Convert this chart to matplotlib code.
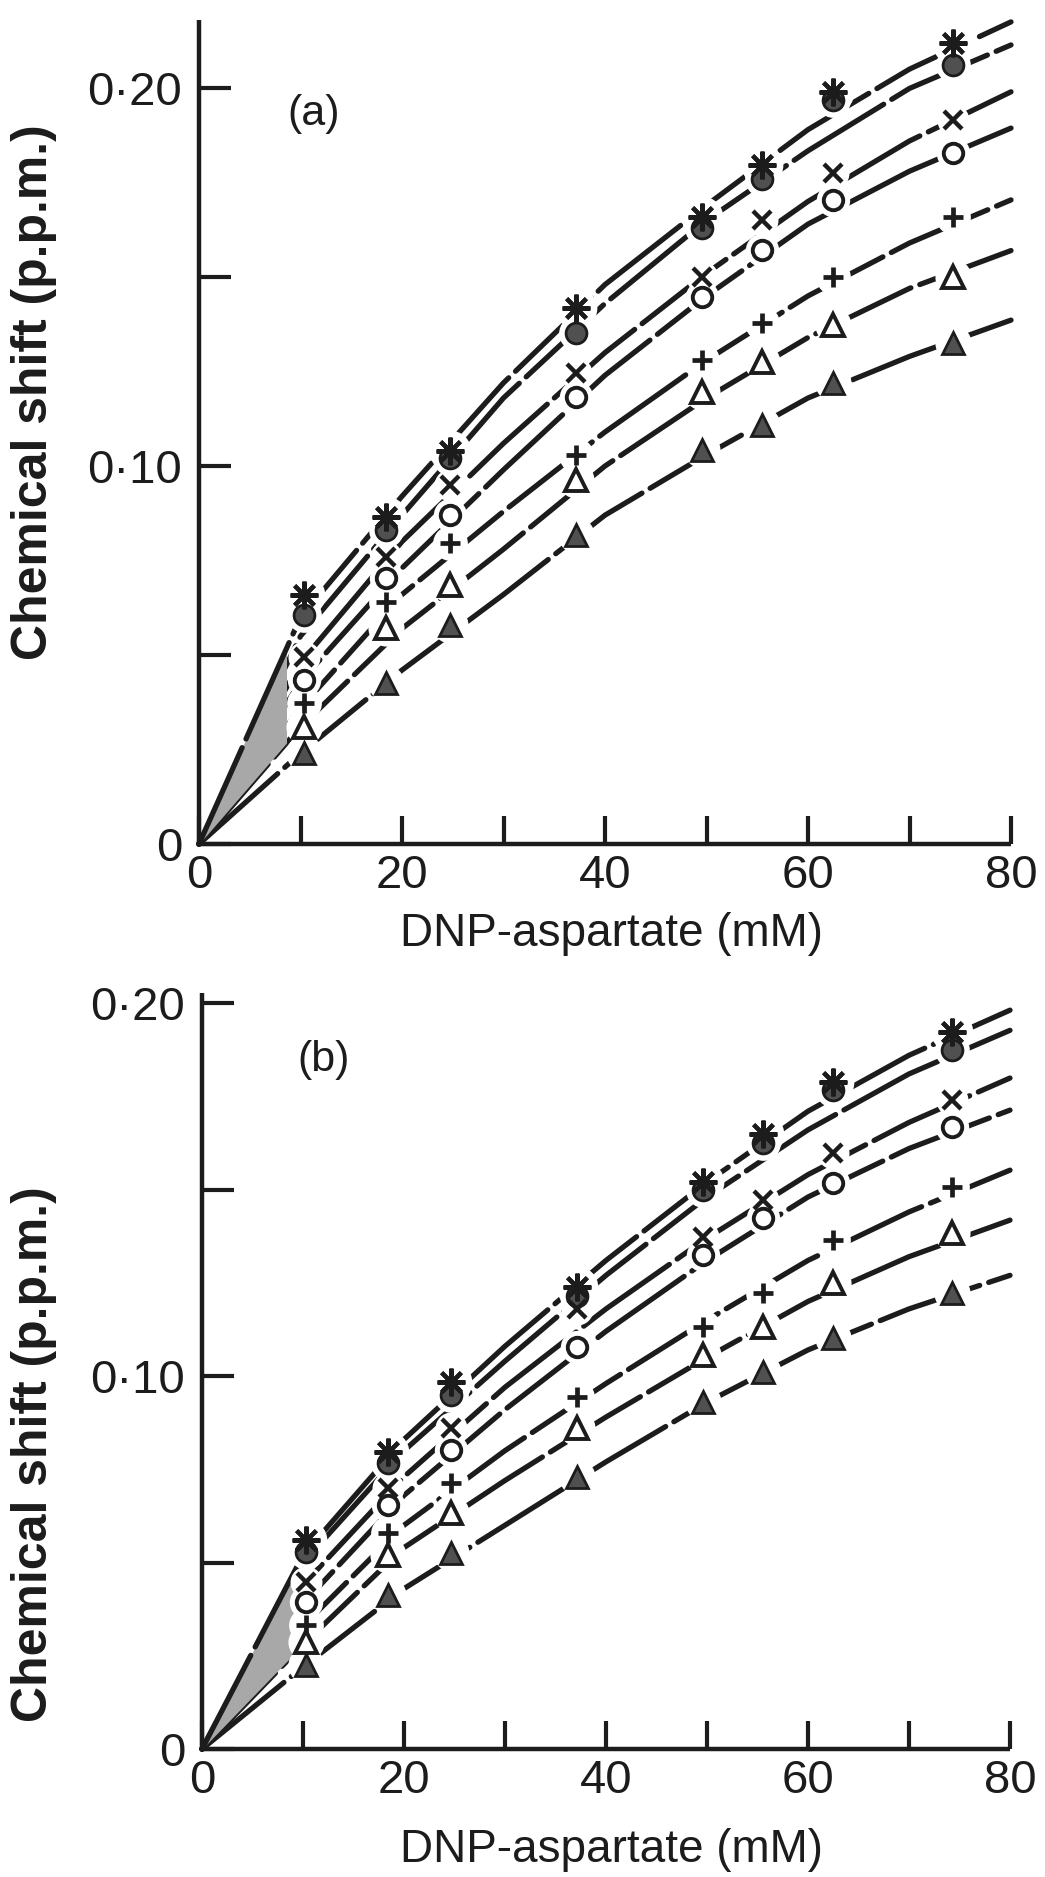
import matplotlib
matplotlib.use('Agg')
import matplotlib.pyplot as plt
from matplotlib.patches import Rectangle
from matplotlib.ticker import FixedLocator, NullFormatter

plt.rcParams['font.family'] = ['Liberation Sans', 'DejaVu Sans']

# ---------------- data ----------------
conc = [10.3, 18.4, 24.7, 37.1, 49.6, 55.5, 62.5, 74.3]   # DNP-aspartate (mM), measured points
curve_x = [0, 10, 20, 30, 40, 50, 60, 70, 80]               # where the drawn curves were read

series_names = ['star', 'filled circle', 'cross', 'open circle', 'plus',
                'open triangle', 'filled triangle']

# panel (a) measured points
a_star   = [0.0659, 0.0865, 0.1040, 0.1418, 0.1660, 0.1796, 0.1990, 0.2119]
a_fcirc  = [0.0606, 0.0831, 0.1020, 0.1352, 0.1630, 0.1760, 0.1968, 0.2061]
a_cross  = [0.0495, 0.0759, 0.0950, 0.1246, 0.1500, 0.1651, 0.1775, 0.1915]
a_ocirc  = [0.0434, 0.0704, 0.0870, 0.1183, 0.1447, 0.1571, 0.1704, 0.1828]
a_plus   = [0.0373, 0.0640, 0.0796, 0.1029, 0.1280, 0.1378, 0.1500, 0.1659]
a_otri   = [0.0310, 0.0571, 0.0685, 0.0963, 0.1196, 0.1275, 0.1373, 0.1500]
a_ftri   = [0.0241, 0.0426, 0.0580, 0.0817, 0.1042, 0.1108, 0.1220, 0.1325]
# panel (a) drawn curves
a_star_curve  = [0, 0.060, 0.092, 0.122, 0.148, 0.169, 0.189, 0.205, 0.2175]
a_fcirc_curve = [0, 0.055, 0.087, 0.118, 0.143, 0.165, 0.1834, 0.1999, 0.2114]
a_cross_curve = [0, 0.048, 0.080, 0.106, 0.130, 0.151, 0.170, 0.186, 0.199]
a_ocirc_curve = [0, 0.043, 0.073, 0.099, 0.124, 0.145, 0.164, 0.178, 0.1894]
a_plus_curve  = [0, 0.036, 0.066, 0.088, 0.109, 0.128, 0.145, 0.159, 0.1704]
a_otri_curve  = [0, 0.031, 0.057, 0.078, 0.100, 0.118, 0.134, 0.147, 0.157]
a_ftri_curve  = [0, 0.024, 0.046, 0.066, 0.087, 0.103, 0.118, 0.129, 0.1386]

# panel (b) measured points
b_star   = [0.0560, 0.0797, 0.0984, 0.1240, 0.1520, 0.1650, 0.1788, 0.1922]
b_fcirc  = [0.0528, 0.0767, 0.0949, 0.1215, 0.1499, 0.1625, 0.1767, 0.1874]
b_cross  = [0.0448, 0.0700, 0.0860, 0.1180, 0.1373, 0.1472, 0.1598, 0.1740]
b_ocirc  = [0.0394, 0.0654, 0.0802, 0.1078, 0.1325, 0.1424, 0.1517, 0.1668]
b_plus   = [0.0332, 0.0579, 0.0713, 0.0944, 0.1131, 0.1223, 0.1365, 0.1507]
b_otri   = [0.0287, 0.0520, 0.0633, 0.0860, 0.1056, 0.1131, 0.1249, 0.1383]
b_ftri   = [0.0225, 0.0413, 0.0525, 0.0729, 0.0930, 0.1011, 0.1102, 0.1223]
# panel (b) drawn curves
b_star_curve  = [0, 0.052, 0.083, 0.108, 0.131, 0.152, 0.171, 0.186, 0.1981]
b_fcirc_curve = [0, 0.050, 0.080, 0.104, 0.127, 0.148, 0.166, 0.181, 0.1927]
b_cross_curve = [0, 0.044, 0.073, 0.097, 0.118, 0.137, 0.154, 0.168, 0.1799]
b_ocirc_curve = [0, 0.039, 0.068, 0.091, 0.112, 0.131, 0.148, 0.161, 0.1713]
b_plus_curve  = [0, 0.033, 0.060, 0.080, 0.098, 0.115, 0.131, 0.144, 0.1552]
b_otri_curve  = [0, 0.028, 0.054, 0.072, 0.089, 0.105, 0.120, 0.132, 0.1418]
b_ftri_curve  = [0, 0.022, 0.043, 0.060, 0.077, 0.093, 0.107, 0.118, 0.127]

x_major = [0, 20, 40, 60, 80]
x_major_labels = ['0', '20', '40', '60', '80']
x_minor = [10, 30, 50, 70]
y_major = [0, 0.10, 0.20]
y_major_labels = ['0', '0\u00b710', '0\u00b720']
y_minor = [0.05, 0.15]

panel_labels = ['(a)', '(b)']
xlabel = 'DNP-aspartate (mM)'
ylabel = 'Chemical shift (p.p.m.)'

# ---------------- styling ----------------
ink = '#1c1c1c'
fillgray = '#505050'
marker_styles = [
    dict(marker=(8, 2, 0), ms=20, mew=3.0, mfc=ink, mec=ink),
    dict(marker='o', ms=15, mew=2.0, mfc=fillgray, mec=ink),
    dict(marker='x', ms=13, mew=3.2, mfc=ink, mec=ink),
    dict(marker='o', ms=14, mew=2.8, mfc='white', mec=ink),
    dict(marker='+', ms=15, mew=3.4, mfc=ink, mec=ink),
    dict(marker='^', ms=16, mew=2.8, mfc='white', mec=ink),
    dict(marker='^', ms=16, mew=2.0, mfc=fillgray, mec=ink),
]

fig = plt.figure(figsize=(10.45, 18.77), dpi=100)
H = 1877.0
W = 1045.0

ax_a = fig.add_axes([199 / W, (H - 844) / H, 812 / W, 824 / H])
ax_b = fig.add_axes([202 / W, (H - 1749) / H, 808 / W, 756 / H])

panels = [
    (ax_a, [a_star, a_fcirc, a_cross, a_ocirc, a_plus, a_otri, a_ftri],
     [a_star_curve, a_fcirc_curve, a_cross_curve, a_ocirc_curve, a_plus_curve, a_otri_curve, a_ftri_curve],
     0.218, (11.3, 0.193), 8.6),
    (ax_b, [b_star, b_fcirc, b_cross, b_ocirc, b_plus, b_otri, b_ftri],
     [b_star_curve, b_fcirc_curve, b_cross_curve, b_ocirc_curve, b_plus_curve, b_otri_curve, b_ftri_curve],
     0.2027, (12.0, 0.1847), 9.0),
]

for idx, (ax, ys, curves, ytop, lab_pos, wedge_end) in enumerate(panels):
    ax.set_xlim(0, 80)
    ax.set_ylim(0, ytop)
    for s in ['top', 'right']:
        ax.spines[s].set_visible(False)
    for s in ['left', 'bottom']:
        ax.spines[s].set_linewidth(3.2)
        ax.spines[s].set_color(ink)
        ax.spines[s].set_capstyle('butt')

    # drawn (fitted) curves, long dashes
    for k, cy in enumerate(curves):
        ax.plot(curve_x, cy, color=ink, lw=3.8, ls=(0, (20, 1.8)),
                solid_capstyle='round', dash_capstyle='round', solid_joinstyle='round',
                zorder=2.7 if k == 0 else 2, clip_on=False)

    # grey wedge near the origin (covers the converging curves)
    wedge = ax.fill_between(curve_x[:2], curves[0][:2], curves[5][:2],
                            color='#a8a8a8', lw=0, zorder=2.5)
    wedge.set_clip_path(Rectangle((0, 0), wedge_end, ytop, transform=ax.transData))

    # white halos around markers (gaps in the lines)
    for k, yv in enumerate(ys):
        st = marker_styles[k]
        ax.plot(conc, yv, ls='none', marker='o', ms=st['ms'] + 10, mfc='white',
                mec='white', mew=0, zorder=3)
    for k, yv in enumerate(ys):
        st = marker_styles[k]
        ax.plot(conc, yv, ls='none', zorder=4 + (0.1 if k == 0 else 0), **st)

    ax.xaxis.set_major_locator(FixedLocator(x_major))
    ax.xaxis.set_minor_locator(FixedLocator(x_minor))
    ax.set_xticklabels(x_major_labels)
    ax.yaxis.set_major_locator(FixedLocator(y_major))
    ax.yaxis.set_minor_locator(FixedLocator(y_minor))
    ax.yaxis.set_minor_formatter(NullFormatter())
    ax.set_yticklabels(y_major_labels)

    ax.tick_params(axis='x', which='both', direction='in', length=20, width=3.0,
                   color=ink, labelsize=34, labelcolor=ink, pad=7)
    ax.tick_params(axis='y', which='both', direction='in', length=23, width=3.0,
                   color=ink, labelsize=34, labelcolor=ink, pad=12)

    ax.text(lab_pos[0], lab_pos[1], panel_labels[idx], fontsize=31, color=ink,
            ha='center', va='center')

# axis titles
fig.text(34 / W, 1 - 392 / H, ylabel, rotation=90, fontsize=36, fontweight='bold',
         color=ink, ha='center', va='center')
fig.text(34 / W, 1 - 1454 / H, ylabel, rotation=90, fontsize=36, fontweight='bold',
         color=ink, ha='center', va='center')
fig.text(612 / W, 1 - 934 / H, xlabel, fontsize=33, color=ink, ha='center', va='center')
fig.text(612 / W, 1 - 1850 / H, xlabel, fontsize=33, color=ink, ha='center', va='center')

fig.savefig('out.png', dpi=100, facecolor='white')
